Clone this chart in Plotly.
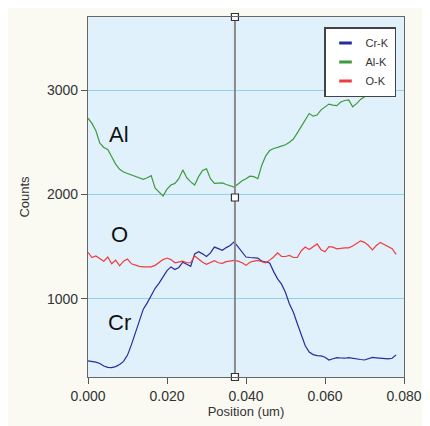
import plotly.graph_objects as go

# Sample positions (um)
position = [round(i * 0.001, 3) for i in range(79)]

al_k = [2730, 2680, 2610, 2490, 2450, 2430, 2360, 2290, 2240, 2215,
        2200, 2185, 2175, 2160, 2145, 2160, 2180, 2060, 2020, 1985,
        2050, 2090, 2105, 2150, 2235, 2160, 2120, 2090, 2170, 2230,
        2245, 2150, 2105, 2110, 2110, 2095, 2085, 2070, 2100, 2130,
        2150, 2175, 2170, 2150, 2280, 2370, 2420, 2440, 2450, 2460,
        2475, 2500, 2530, 2590, 2650, 2710, 2775, 2750, 2760, 2810,
        2840, 2865, 2855, 2850, 2885, 2900, 2905, 2840, 2870, 2910,
        2935, 2960, 2980, 2985, 2980, 2965, 2950, 2970, 2955]

o_k = [1445, 1395, 1410, 1385, 1360, 1400, 1335, 1370, 1315, 1360,
       1380, 1335, 1320, 1310, 1305, 1302, 1305, 1320, 1345, 1375,
       1390, 1375, 1345, 1350, 1360, 1345, 1345, 1410, 1380, 1350,
       1330, 1350, 1365, 1345, 1340, 1355, 1365, 1368, 1360, 1345,
       1320, 1350, 1360, 1368, 1355, 1345, 1370, 1400, 1440, 1405,
       1405, 1415, 1395, 1395, 1460, 1495, 1472, 1500, 1525, 1470,
       1450, 1500, 1495, 1478, 1485, 1487, 1488, 1505, 1530, 1555,
       1540, 1510, 1468, 1510, 1540, 1520, 1500, 1480, 1425]

cr_k = [405, 400, 392, 380, 355, 342, 340, 350, 370, 400,
        460, 560, 670, 790, 900, 960, 1030, 1100, 1150, 1210,
        1270, 1305, 1280, 1300, 1350, 1330, 1310, 1430, 1450, 1430,
        1405, 1440, 1495, 1480, 1465, 1490, 1510, 1545, 1500, 1455,
        1400, 1395, 1393, 1390, 1360, 1348, 1343, 1260, 1190, 1140,
        1060, 950, 870, 760, 650, 550, 490, 465, 455, 452,
        440, 412, 425, 436, 432, 430, 436, 428, 422, 418,
        413, 428, 438, 434, 430, 425, 423, 430, 462]

series_names = ["Cr-K", "Al-K", "O-K"]
series_colors = ["#2a2a9c", "#3d9a3d", "#f03c3c"]

x_ticks = [0.0, 0.02, 0.04, 0.06, 0.08]
y_ticks = [1000, 2000, 3000]

cursor_x = 0.0372
cursor_marks = [250, 1970, 3700]

labels = ["Al", "O", "Cr"]
label_x = [0.0079, 0.0079, 0.0079]
label_y = [2577, 1615, 769]

fig = go.Figure()
for name, vals, col in zip(series_names, [cr_k, al_k, o_k], series_colors):
    fig.add_trace(go.Scatter(x=position, y=vals, mode="lines", name=name,
                             line=dict(color=col, width=1.2), showlegend=False))

# cursor line
fig.add_trace(go.Scatter(x=[cursor_x, cursor_x], y=[250, 3700], mode="lines",
                         line=dict(color="#8a8a8a", width=2), showlegend=False,
                         hoverinfo="skip"))
fig.add_trace(go.Scatter(x=[cursor_x] * 3, y=cursor_marks, mode="markers",
                         marker=dict(symbol="square", size=7, color="white",
                                     line=dict(color="#333", width=1.2)),
                         showlegend=False, cliponaxis=False))

# legend entries (short dashes)
for name, col in zip(series_names, series_colors):
    fig.add_trace(go.Scatter(x=[None], y=[None], mode="markers", name=name,
                             marker=dict(symbol="line-ew-open", size=9, color=col,
                                         line=dict(color=col, width=3))))

for t, xx, yy in zip(labels, label_x, label_y):
    fig.add_annotation(x=xx, y=yy, text=t, showarrow=False,
                       font=dict(family="Liberation Sans, Arial", size=22, color="#111"))

axis_font = dict(family="Liberation Sans, Arial", size=14, color="#333")
fig.update_layout(
    width=430, height=426,
    margin=dict(l=80, r=34, t=9, b=57, autoexpand=False),
    paper_bgcolor="#fafaf3",
    plot_bgcolor="#e0f1fb",
    font=axis_font,
    legend=dict(x=(396 - 88) / 316, y=(377 - 27) / 360, xanchor="right", yanchor="top",
                bgcolor="white", bordercolor="#444", borderwidth=1.5,
                font=dict(family="Liberation Sans, Arial", size=11, color="#333"),
                itemwidth=30, tracegroupgap=0),
    xaxis=dict(range=[0, 0.08], tickvals=x_ticks, tickformat=".3f", automargin=False,
               showgrid=False, zeroline=False, showline=True, linecolor="#666",
               linewidth=1.2, mirror=True, ticks="outside", ticklen=6, tickcolor="#555",
               title=dict(text="Position (um)", standoff=2,
                          font=dict(family="Liberation Sans, Arial", size=13, color="#333"))),
    yaxis=dict(range=[250, 3700], tickvals=y_ticks, tickformat="d", automargin=False,
               showgrid=True, gridcolor="#8fd2ee", gridwidth=1.2, zeroline=False,
               showline=True, linecolor="#666", linewidth=1.2, mirror=True,
               ticks="outside", ticklen=6, tickcolor="#555",
               title=dict(text="Counts", standoff=14,
                          font=dict(family="Liberation Sans, Arial", size=13, color="#333"))),
)

fig.write_html("out.html")
